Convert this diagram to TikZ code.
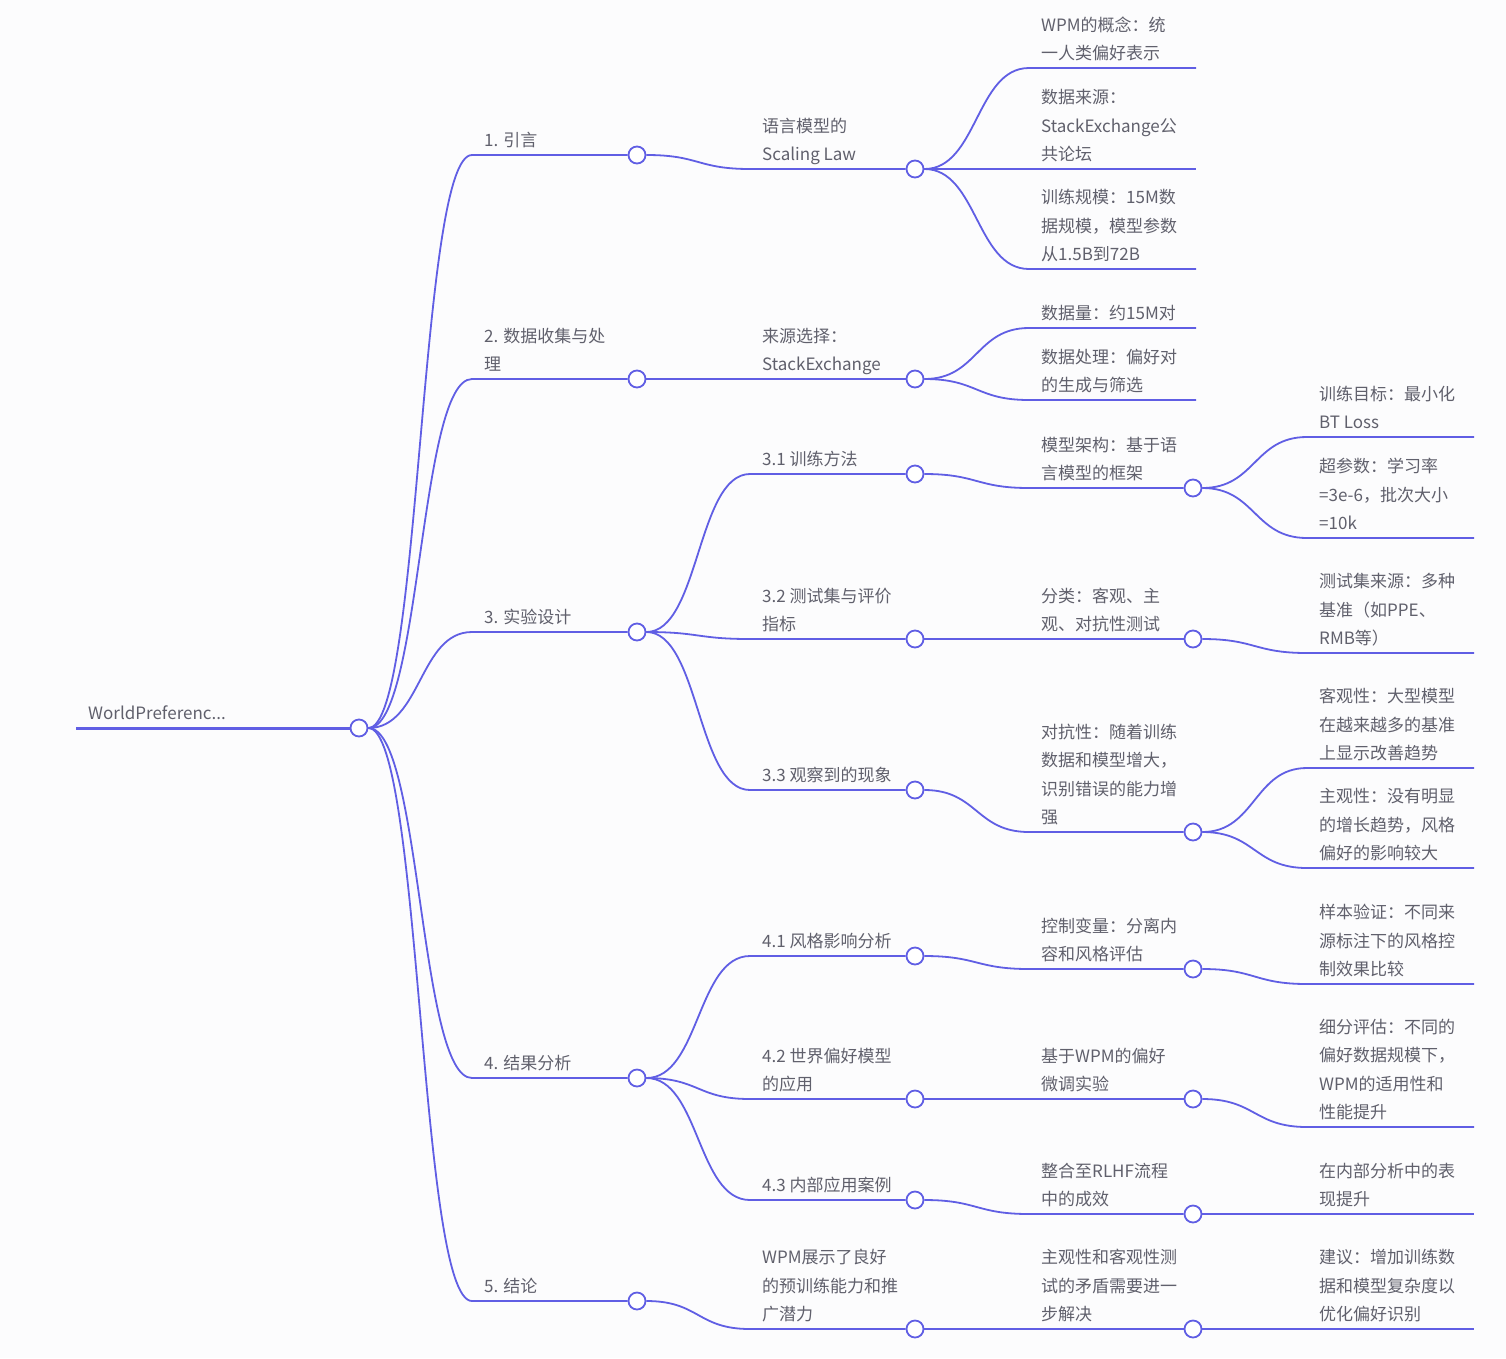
\documentclass[tikz,border=0pt]{standalone}
\usepackage{fontspec}
\setmainfont{Noto Sans CJK SC}
\usepackage{tikz}
\usetikzlibrary{positioning}
\definecolor{mapline}{RGB}{96,94,228}
\definecolor{mapink}{RGB}{96,96,108}
\definecolor{mapbg}{RGB}{252,252,253}

\begin{document}
\begin{tikzpicture}[x=1pt, y=-1pt,
    branch/.style={draw=mapline, line width=1.8pt},
    trunk/.style={draw=mapline, line width=3pt},
    dot/.style={circle, draw=mapline, fill=white, line width=1.8pt,
                minimum size=17pt, inner sep=0pt},
    lbl/.style={anchor=south west, inner sep=0pt, xshift=12pt, yshift=-0.5pt,
                align=left, text=mapink, font=\fontsize{17}{28.5}\selectfont,
                execute at end node=\strut}]
  \fill[mapbg] (0,0) rectangle (1506,1358);
  \useasboundingbox (0,0) rectangle (1506,1358);

  % root
  \coordinate (r0) at (76,728);
  \node[dot] (root) at (359,728) {};
  \draw[trunk] (r0) -- (root);
  \node[lbl] (troot) at (r0) {WorldPreferenc...};

  % level 1
  \coordinate (s1) at (472,155);
  \coordinate (s2) at (472,379);
  \coordinate (s3) at (472,632);
  \coordinate (s4) at (472,1078);
  \coordinate (s5) at (472,1301);
  \node[dot] (n1) at (637,155) {};
  \node[dot] (n2) at (637,379) {};
  \node[dot] (n3) at (637,632) {};
  \node[dot] (n4) at (637,1078) {};
  \node[dot] (n5) at (637,1301) {};
  \draw[branch] (root.east) .. controls +(53,0) and +(-53,0) .. (s1) -- (n1);
  \draw[branch] (root.east) .. controls +(53,0) and +(-53,0) .. (s2) -- (n2);
  \draw[branch] (root.east) .. controls +(53,0) and +(-53,0) .. (s3) -- (n3);
  \draw[branch] (root.east) .. controls +(53,0) and +(-53,0) .. (s4) -- (n4);
  \draw[branch] (root.east) .. controls +(53,0) and +(-53,0) .. (s5) -- (n5);
  \node[lbl] (t1) at (s1) {1. 引言};
  \node[lbl] (t2) at (s2) {2. 数据收集与处\\理};
  \node[lbl] (t3) at (s3) {3. 实验设计};
  \node[lbl] (t4) at (s4) {4. 结果分析};
  \node[lbl] (t5) at (s5) {5. 结论};

  % level 2
  \coordinate (s11) at (750,169);
  \coordinate (s21) at (750,379);
  \coordinate (s31) at (750,474);
  \coordinate (s32) at (750,639);
  \coordinate (s33) at (750,790);
  \coordinate (s41) at (750,956);
  \coordinate (s42) at (750,1099);
  \coordinate (s43) at (750,1200);
  \coordinate (s51) at (750,1329);
  \node[dot] (n11) at (915,169) {};
  \node[dot] (n21) at (915,379) {};
  \node[dot] (n31) at (915,474) {};
  \node[dot] (n32) at (915,639) {};
  \node[dot] (n33) at (915,790) {};
  \node[dot] (n41) at (915,956) {};
  \node[dot] (n42) at (915,1099) {};
  \node[dot] (n43) at (915,1200) {};
  \node[dot] (n51) at (915,1329) {};
  \draw[branch] (n1.east) .. controls +(53,0) and +(-53,0) .. (s11) -- (n11);
  \draw[branch] (n2.east) .. controls +(53,0) and +(-53,0) .. (s21) -- (n21);
  \draw[branch] (n3.east) .. controls +(53,0) and +(-53,0) .. (s31) -- (n31);
  \draw[branch] (n3.east) .. controls +(53,0) and +(-53,0) .. (s32) -- (n32);
  \draw[branch] (n3.east) .. controls +(53,0) and +(-53,0) .. (s33) -- (n33);
  \draw[branch] (n4.east) .. controls +(53,0) and +(-53,0) .. (s41) -- (n41);
  \draw[branch] (n4.east) .. controls +(53,0) and +(-53,0) .. (s42) -- (n42);
  \draw[branch] (n4.east) .. controls +(53,0) and +(-53,0) .. (s43) -- (n43);
  \draw[branch] (n5.east) .. controls +(53,0) and +(-53,0) .. (s51) -- (n51);
  \node[lbl] (t11) at (s11) {语言模型的\\Scaling Law};
  \node[lbl] (t21) at (s21) {来源选择：\\StackExchange};
  \node[lbl] (t31) at (s31) {3.1 训练方法};
  \node[lbl] (t32) at (s32) {3.2 测试集与评价\\指标};
  \node[lbl] (t33) at (s33) {3.3 观察到的现象};
  \node[lbl] (t41) at (s41) {4.1 风格影响分析};
  \node[lbl] (t42) at (s42) {4.2 世界偏好模型\\的应用};
  \node[lbl] (t43) at (s43) {4.3 内部应用案例};
  \node[lbl] (t51) at (s51) {WPM展示了良好\\的预训练能力和推\\广潜力};

  % level 3
  \coordinate (s111) at (1029,68);   \coordinate (e111) at (1196,68);
  \coordinate (s112) at (1029,169);  \coordinate (e112) at (1196,169);
  \coordinate (s113) at (1029,269);  \coordinate (e113) at (1196,269);
  \coordinate (s211) at (1029,328);  \coordinate (e211) at (1196,328);
  \coordinate (s212) at (1029,400);  \coordinate (e212) at (1196,400);
  \coordinate (s311) at (1029,488);
  \coordinate (s321) at (1029,639);
  \coordinate (s331) at (1029,832);
  \coordinate (s411) at (1029,969);
  \coordinate (s421) at (1029,1099);
  \coordinate (s431) at (1029,1214);
  \coordinate (s511) at (1029,1329);
  \node[dot] (n311) at (1193,488) {};
  \node[dot] (n321) at (1193,639) {};
  \node[dot] (n331) at (1193,832) {};
  \node[dot] (n411) at (1193,969) {};
  \node[dot] (n421) at (1193,1099) {};
  \node[dot] (n431) at (1193,1214) {};
  \node[dot] (n511) at (1193,1329) {};
  \draw[branch] (n11.east) .. controls +(53,0) and +(-53,0) .. (s111) -- (e111);
  \draw[branch] (n11.east) .. controls +(53,0) and +(-53,0) .. (s112) -- (e112);
  \draw[branch] (n11.east) .. controls +(53,0) and +(-53,0) .. (s113) -- (e113);
  \draw[branch] (n21.east) .. controls +(53,0) and +(-53,0) .. (s211) -- (e211);
  \draw[branch] (n21.east) .. controls +(53,0) and +(-53,0) .. (s212) -- (e212);
  \draw[branch] (n31.east) .. controls +(53,0) and +(-53,0) .. (s311) -- (n311);
  \draw[branch] (n32.east) .. controls +(53,0) and +(-53,0) .. (s321) -- (n321);
  \draw[branch] (n33.east) .. controls +(53,0) and +(-53,0) .. (s331) -- (n331);
  \draw[branch] (n41.east) .. controls +(53,0) and +(-53,0) .. (s411) -- (n411);
  \draw[branch] (n42.east) .. controls +(53,0) and +(-53,0) .. (s421) -- (n421);
  \draw[branch] (n43.east) .. controls +(53,0) and +(-53,0) .. (s431) -- (n431);
  \draw[branch] (n51.east) .. controls +(53,0) and +(-53,0) .. (s511) -- (n511);
  \node[lbl] (t111) at (s111) {WPM的概念：统\\一人类偏好表示};
  \node[lbl] (t112) at (s112) {数据来源：\\StackExchange公\\共论坛};
  \node[lbl] (t113) at (s113) {训练规模：15M数\\据规模，模型参数\\从1.5B到72B};
  \node[lbl] (t211) at (s211) {数据量：约15M对};
  \node[lbl] (t212) at (s212) {数据处理：偏好对\\的生成与筛选};
  \node[lbl] (t311) at (s311) {模型架构：基于语\\言模型的框架};
  \node[lbl] (t321) at (s321) {分类：客观、主\\观、对抗性测试};
  \node[lbl] (t331) at (s331) {对抗性：随着训练\\数据和模型增大，\\识别错误的能力增\\强};
  \node[lbl] (t411) at (s411) {控制变量：分离内\\容和风格评估};
  \node[lbl] (t421) at (s421) {基于WPM的偏好\\微调实验};
  \node[lbl] (t431) at (s431) {整合至RLHF流程\\中的成效};
  \node[lbl] (t511) at (s511) {主观性和客观性测\\试的矛盾需要进一\\步解决};

  % level 4
  \coordinate (s3111) at (1307,437);  \coordinate (e3111) at (1474,437);
  \coordinate (s3112) at (1307,538);  \coordinate (e3112) at (1474,538);
  \coordinate (s3211) at (1307,653);  \coordinate (e3211) at (1474,653);
  \coordinate (s3311) at (1307,768);  \coordinate (e3311) at (1474,768);
  \coordinate (s3312) at (1307,868);  \coordinate (e3312) at (1474,868);
  \coordinate (s4111) at (1307,984);  \coordinate (e4111) at (1474,984);
  \coordinate (s4211) at (1307,1127); \coordinate (e4211) at (1474,1127);
  \coordinate (s4311) at (1307,1214); \coordinate (e4311) at (1474,1214);
  \coordinate (s5111) at (1307,1329); \coordinate (e5111) at (1474,1329);
  \draw[branch] (n311.east) .. controls +(53,0) and +(-53,0) .. (s3111) -- (e3111);
  \draw[branch] (n311.east) .. controls +(53,0) and +(-53,0) .. (s3112) -- (e3112);
  \draw[branch] (n321.east) .. controls +(53,0) and +(-53,0) .. (s3211) -- (e3211);
  \draw[branch] (n331.east) .. controls +(53,0) and +(-53,0) .. (s3311) -- (e3311);
  \draw[branch] (n331.east) .. controls +(53,0) and +(-53,0) .. (s3312) -- (e3312);
  \draw[branch] (n411.east) .. controls +(53,0) and +(-53,0) .. (s4111) -- (e4111);
  \draw[branch] (n421.east) .. controls +(53,0) and +(-53,0) .. (s4211) -- (e4211);
  \draw[branch] (n431.east) .. controls +(53,0) and +(-53,0) .. (s4311) -- (e4311);
  \draw[branch] (n511.east) .. controls +(53,0) and +(-53,0) .. (s5111) -- (e5111);
  \node[lbl] (t3111) at (s3111) {训练目标：最小化\\BT Loss};
  \node[lbl] (t3112) at (s3112) {超参数：学习率\\=3e-6，批次大小\\=10k};
  \node[lbl] (t3211) at (s3211) {测试集来源：多种\\基准（如PPE、\\RMB等）};
  \node[lbl] (t3311) at (s3311) {客观性：大型模型\\在越来越多的基准\\上显示改善趋势};
  \node[lbl] (t3312) at (s3312) {主观性：没有明显\\的增长趋势，风格\\偏好的影响较大};
  \node[lbl] (t4111) at (s4111) {样本验证：不同来\\源标注下的风格控\\制效果比较};
  \node[lbl] (t4211) at (s4211) {细分评估：不同的\\偏好数据规模下，\\WPM的适用性和\\性能提升};
  \node[lbl] (t4311) at (s4311) {在内部分析中的表\\现提升};
  \node[lbl] (t5111) at (s5111) {建议：增加训练数\\据和模型复杂度以\\优化偏好识别};
\end{tikzpicture}
\end{document}
